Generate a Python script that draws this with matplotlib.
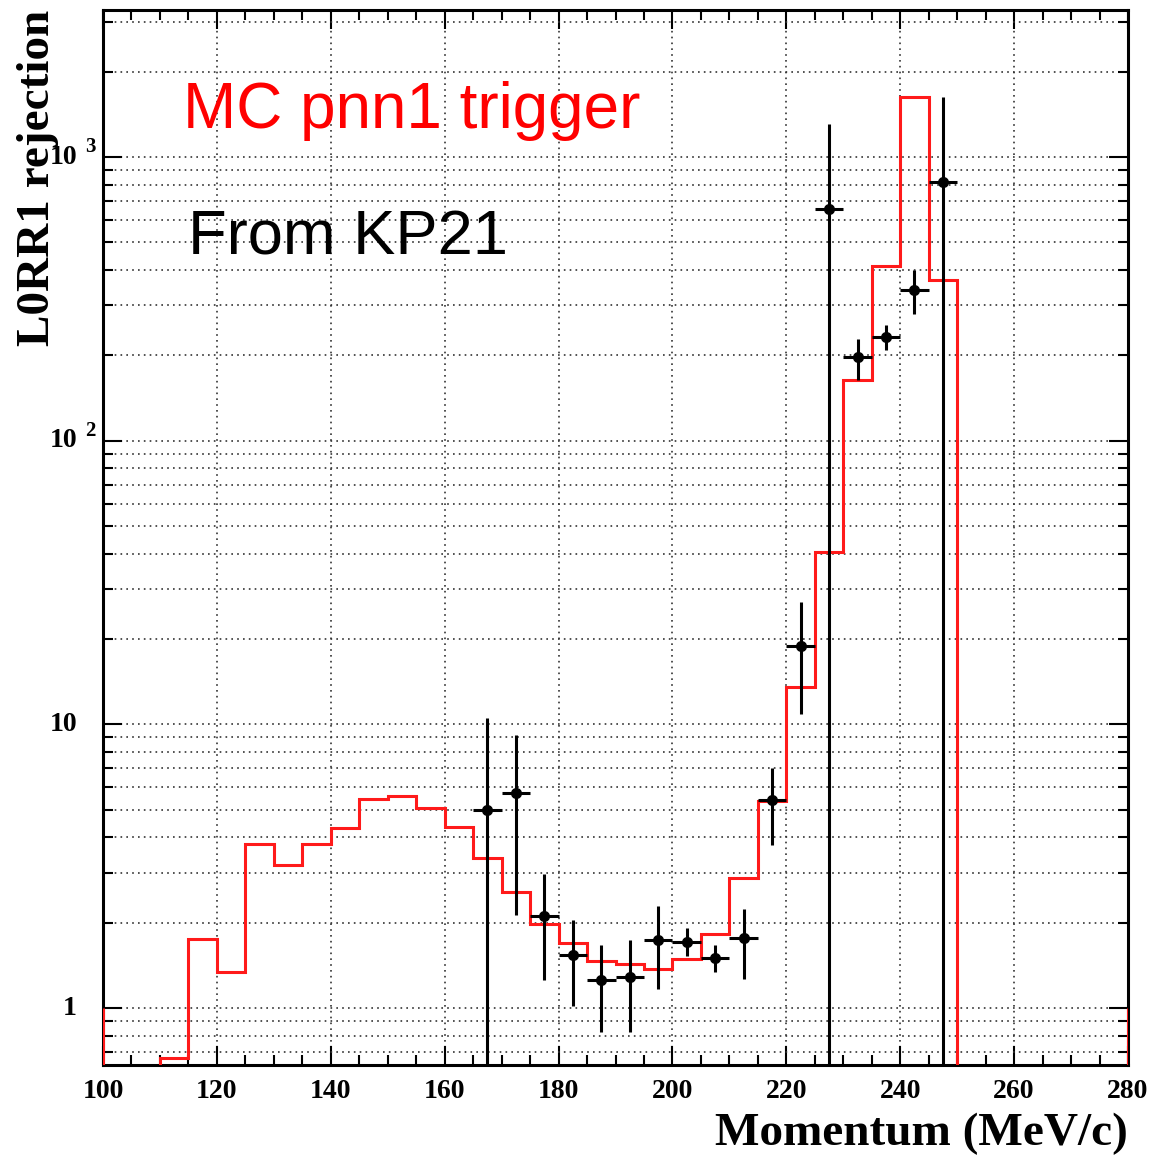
import numpy as np
import matplotlib.pyplot as plt
from matplotlib.ticker import FixedLocator, MultipleLocator, NullFormatter

# MC histogram (5 MeV bins, 110-250 MeV/c)
mc_edges = np.arange(110, 255, 5)
mc_values = [0.665, 1.75, 1.34, 3.78, 3.19, 3.78, 4.32, 5.45, 5.60, 5.06,
             4.36, 3.37, 2.57, 1.98, 1.70, 1.47, 1.43, 1.37, 1.49, 1.83,
             2.88, 5.38, 13.5, 40.5, 164, 412, 1630, 368]
edge_x = [100, 280]
edge_top = 1.0

# KP21 data points
data_x = [167.5, 172.5, 177.5, 182.5, 187.5, 192.5, 197.5, 202.5, 207.5,
          212.5, 217.5, 222.5, 227.5, 232.5, 237.5, 242.5, 247.5]
data_y = [4.98, 5.71, 2.12, 1.54, 1.255, 1.29, 1.74, 1.71, 1.50,
          1.76, 5.41, 18.9, 654, 197, 232, 340, 818]
data_lo = [0.1, 2.13, 1.255, 1.02, 0.825, 0.825, 1.17, 1.52, 1.34,
           1.27, 3.75, 10.9, 0.1, 164, 209, 280, 0.1]
data_hi = [10.5, 9.17, 2.98, 2.04, 1.67, 1.74, 2.29, 1.91, 1.67,
           2.24, 7.0, 27.0, 1306, 229, 256, 399, 1630]
bin_half = 2.5

x_major = list(range(100, 281, 20))
y_major = [1, 10, 100, 1000]
y_base = ['1', '10', '10', '10']
y_exp = ['', '', '2', '3']

fig = plt.figure(figsize=(11.49, 11.58), dpi=100)
ax = fig.add_axes([103 / 1149, 1 - 1065 / 1158, 1025 / 1149, 1055 / 1158])

ax.set_yscale('log')
ax.set_xlim(100, 280)
ax.set_ylim(0.63, 3300)

# grid
ax.xaxis.set_major_locator(FixedLocator(x_major))
ax.xaxis.set_minor_locator(MultipleLocator(5))
ax.yaxis.set_major_locator(FixedLocator(y_major))
ax.yaxis.set_major_formatter(NullFormatter())
ax.yaxis.set_minor_formatter(NullFormatter())
ax.grid(True, which='major', axis='x', color='#333333', linestyle=(0, (1, 2.5)), lw=1.2)
ax.grid(True, which='both', axis='y', color='#333333', linestyle=(0, (1, 2.5)), lw=1.2)

ax.stairs(mc_values, mc_edges, baseline=0.1, fill=False, color='#ff1a1a', lw=2.2, zorder=3)
ax.vlines(edge_x, 0.1, edge_top, color='#ff1a1a', lw=2.2, zorder=3)

y = np.array(data_y)
yerr = [y - np.array(data_lo), np.array(data_hi) - y]
ax.errorbar(data_x, data_y, xerr=bin_half, yerr=yerr, fmt='o', color='black',
            ms=7, lw=2.2, capsize=0, zorder=4)

# ticks
ax.tick_params(which='both', direction='in', top=True, right=True, width=1.5, colors='black')
ax.tick_params(which='major', length=14)
ax.tick_params(which='minor', length=7)
ax.tick_params(axis='x', which='major', pad=10)
for lab in ax.get_xticklabels():
    lab.set_fontfamily('Liberation Serif')
    lab.set_fontweight('bold')
    lab.set_fontsize(20)
for s in ax.spines.values():
    s.set_linewidth(2.2)

# y tick labels, ROOT style (exponent hanging to the right)
ytrans = ax.get_yaxis_transform()
for val, base, ex in zip(y_major, y_base, y_exp):
    ax.text(-0.0254, val, base, transform=ytrans, ha='right', va='center',
            family='Liberation Serif', fontweight='bold', fontsize=20)
    if ex:
        ax.text(-0.0176, val, ex, transform=ytrans, ha='left', va='bottom',
                family='Liberation Serif', fontweight='bold', fontsize=15)

ax.set_xlabel('Momentum (MeV/c)', family='Liberation Serif', fontweight='bold',
              fontsize=34, loc='right', labelpad=6)
ax.set_ylabel('L0RR1 rejection', family='Liberation Serif', fontweight='bold',
              fontsize=34, loc='top')
ax.yaxis.set_label_coords(-0.043, 1.0)

ax.text(0.078, 0.888, 'MC pnn1 trigger', transform=ax.transAxes, color='#ff0000',
        family='Liberation Sans', fontsize=46)
ax.text(0.083, 0.768, 'From KP21', transform=ax.transAxes, color='black',
        family='Liberation Sans', fontsize=45.5)

fig.savefig('out.png', dpi=100)
